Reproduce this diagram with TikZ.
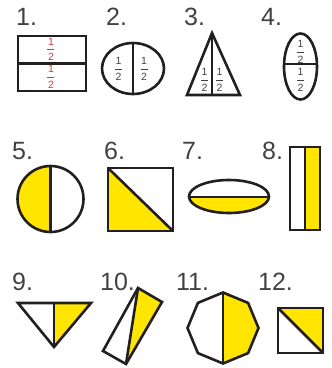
\documentclass[tikz,border=0pt]{standalone}
\usepackage{fontspec}
\setmainfont{Liberation Sans}
\definecolor{ylw}{HTML}{FFE500}
\definecolor{ink}{HTML}{231F20}
\definecolor{redf}{HTML}{E8312F}
\newcommand\halfsym{\shortstack{1\\[0.8pt]\rule{7pt}{0.7pt}\\[0.8pt]2}}
\tikzset{
  shp/.style={draw=ink, line width=2.6pt},
  lbl/.style={anchor=base west, inner sep=0pt, text=ink!85, font=\fontsize{25}{25}\selectfont},
  frc/.style={inner sep=0pt, text=ink!85, font=\fontsize{10.5}{11}\selectfont},
  frcred/.style={frc, text=redf}
}
\begin{document}
\begin{tikzpicture}[x=1pt,y=-1pt]
\useasboundingbox (0,0) rectangle (332,368);
% labels
\node[lbl] (l1) at (16,25.5) {1.};
\node[lbl] (l2) at (106,25.5) {2.};
\node[lbl] (l3) at (184,25.5) {3.};
\node[lbl] (l4) at (261,25.5) {4.};
\node[lbl] (l5) at (12,159) {5.};
\node[lbl] (l6) at (104,159) {6.};
\node[lbl] (l7) at (182,159) {7.};
\node[lbl] (l8) at (262,159) {8.};
\node[lbl] (l9) at (12,290) {9.};
\node[lbl] (l10) at (100,290) {10.};
\node[lbl] (l11) at (176,290) {11.};
\node[lbl] (l12) at (258,290) {12.};
% 1
\draw[shp] (18,36) rectangle (86,91);
\draw[shp] (18,63.5) -- (86,63.5);
\node[frcred] (f1a) at (51,49.5) {\halfsym};
\node[frcred] (f1b) at (51,77) {\halfsym};
% 2
\draw[shp] (133,68.5) ellipse [x radius=31, y radius=25.5];
\draw[shp] (133,43) -- (133,94);
\node[frc] (f2a) at (118.5,69) {\halfsym};
\node[frc] (f2b) at (144,69) {\halfsym};
% 3
\draw[shp] (212,33) -- (240,95) -- (187,95) -- cycle;
\draw[shp] (212,33) -- (212,95);
\node[frc] (f3a) at (204.5,80) {\halfsym};
\node[frc] (f3b) at (219.5,80) {\halfsym};
% 4
\draw[shp] (300.5,66.5) ellipse [x radius=16.5, y radius=33];
\draw[shp] (284,64) -- (317,64);
\node[frc] (f4a) at (300.5,52) {\halfsym};
\node[frc] (f4b) at (300.5,80) {\halfsym};
% 5
\begin{scope}
  \clip (10,160) rectangle (50.5,240);
  \fill[ylw] (50.5,199) circle (33);
\end{scope}
\draw[shp] (50.5,199) circle (33);
\draw[shp] (50.5,166) -- (50.5,232);
% 6
\fill[ylw] (108,168) -- (173,231) -- (108,231) -- cycle;
\draw[shp] (108,168) rectangle (173,231);
\draw[shp] (108,168) -- (173,231);
% 7
\begin{scope}
  \clip (180,197) rectangle (280,220);
  \fill[ylw] (229,196.5) ellipse [x radius=40, y radius=16.5];
\end{scope}
\draw[shp] (229,196.5) ellipse [x radius=40, y radius=16.5];
\draw[shp] (189,197) -- (269,197);
% 8
\fill[ylw] (305,147) rectangle (320,230);
\draw[shp] (290,147) rectangle (320,230);
\draw[shp] (305,147) -- (305,230);
% 9
\fill[ylw] (54,303) -- (91,303) -- (54,347) -- cycle;
\draw[shp] (18,303) -- (91,303) -- (54,347) -- cycle;
\draw[shp] (54,303) -- (54,347);
% 10
\fill[ylw] (138,288) -- (162,302) -- (126,364) -- cycle;
\draw[shp] (138,288) -- (162,302) -- (126,364) -- (103,351) -- cycle;
\draw[shp] (138,288) -- (126,364);
% 11
\fill[ylw] (223,292.5) -- (248.1,302.9) -- (258.5,328) -- (248.1,353.1) -- (223,363.5) -- cycle;
\draw[shp] (223,292.5) -- (248.1,302.9) -- (258.5,328) -- (248.1,353.1) -- (223,363.5) -- (197.9,353.1) -- (187.5,328) -- (197.9,302.9) -- cycle;
\draw[shp] (223,292.5) -- (223,363.5);
% 12
\fill[ylw] (278,308) -- (323,308) -- (323,353) -- cycle;
\draw[shp] (278,308) rectangle (323,353);
\draw[shp] (278,308) -- (323,353);
\end{tikzpicture}
\end{document}
